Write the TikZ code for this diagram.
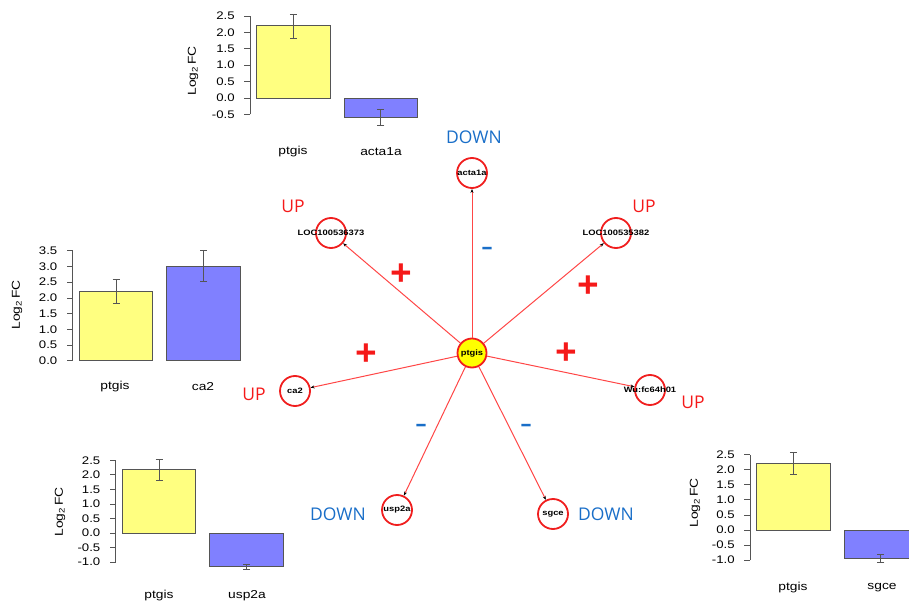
\documentclass[tikz,border=0pt]{standalone}
\usepackage{fontspec}
\setmainfont{Liberation Sans}
\newfontfamily\chartfont[FakeStretch=1.2]{Liberation Sans}
\newfontfamily\tagfont{Open Sans}
\usetikzlibrary{arrows.meta}
\definecolor{baryellow}{RGB}{255,255,128}
\definecolor{barblue}{RGB}{128,128,255}
\definecolor{bargray}{RGB}{85,85,85}
\definecolor{genered}{RGB}{240,30,30}
\definecolor{edgered}{RGB}{255,70,70}
\definecolor{upred}{RGB}{245,25,25}
\definecolor{downblue}{RGB}{25,110,200}
\definecolor{hubyellow}{RGB}{255,255,0}

\begin{document}
\begin{tikzpicture}[x=1pt,y=-1pt,
  gene/.style={circle, draw=genered, line width=1.8pt, fill=white, minimum size=30pt, inner sep=0pt},
  genelab/.style={font=\chartfont\bfseries\fontsize{7.8}{7.8}\selectfont},
  edge/.style={draw=edgered, line width=1pt, -{Stealth[black,length=4pt,width=3pt]}},
  uptag/.style={text=upred, font=\tagfont\fontsize{17.5}{17.5}\selectfont},
  downtag/.style={text=downblue, font=\tagfont\fontsize{17.5}{17.5}\selectfont},
  plussign/.style={text=upred, font=\tagfont\bfseries\fontsize{38}{38}\selectfont},
  minussign/.style={text=downblue, font=\tagfont\bfseries\fontsize{22}{22}\selectfont},
  axis/.style={draw=bargray, line width=0.8pt},
  ticklab/.style={anchor=east, inner sep=0pt, font=\chartfont\fontsize{11}{11}\selectfont},
  catlab/.style={inner sep=0pt, font=\chartfont\fontsize{11.5}{11.5}\selectfont},
  ylab/.style={rotate=90, inner sep=0pt, font=\chartfont\fontsize{11.5}{11.5}\selectfont},
  ybar/.style={draw=bargray, line width=0.8pt, fill=baryellow},
  bbar/.style={draw=bargray, line width=0.8pt, fill=barblue},
  errbar/.style={draw=bargray, line width=0.8pt, {Bar[width=7pt]}-{Bar[width=7pt]}}]
\useasboundingbox (0,0) rectangle (909,601);
\clip (0,0) rectangle (909,601);

% network
\node[gene, fill=hubyellow, minimum size=29pt, label={[genelab]center:ptgis}] (ptgis) at (472,353) {};
\node[gene, label={[genelab]center:acta1a}] (acta1a) at (472,173) {};
\node[gene, label={[genelab]center:LOC100536373}] (locA) at (331,233) {};
\node[gene, label={[genelab]center:LOC100535382}] (locB) at (616,233) {};
\node[gene, label={[genelab]center:ca2}] (ca2) at (295,391) {};
\node[gene, label={[genelab]center:Wu:fc64h01}] (wu) at (650,390) {};
\node[gene, label={[genelab]center:usp2a}] (usp2a) at (397,510) {};
\node[gene, label={[genelab]center:sgce}] (sgce) at (553,514) {};
\draw[edge] (ptgis) -- (acta1a);
\draw[edge] (ptgis) -- (locA);
\draw[edge] (ptgis) -- (locB);
\draw[edge] (ptgis) -- (ca2);
\draw[edge] (ptgis) -- (wu);
\draw[edge] (ptgis) -- (usp2a);
\draw[edge] (ptgis) -- (sgce);

\node[downtag] (tagActa) at (474,137) {DOWN};
\node[uptag] (tagLocA) at (293,206) {UP};
\node[uptag] (tagLocB) at (644,206) {UP};
\node[uptag] (tagCa) at (254,394) {UP};
\node[uptag] (tagWu) at (693,402) {UP};
\node[downtag] (tagUsp) at (338,514) {DOWN};
\node[downtag] (tagSgce) at (606,514) {DOWN};
\node[plussign] (plusLocA) at (401,275) {+};
\node[plussign] (plusLocB) at (588,287) {+};
\node[plussign] (plusCa) at (366,355) {+};
\node[plussign] (plusWu) at (566,354) {+};
\node[minussign] (minusActa) at (487,251) {\textendash};
\node[minussign] (minusUsp) at (421,428) {\textendash};
\node[minussign] (minusSgce) at (526,428) {\textendash};

% acta1a chart
\begin{scope}[shift={(250,98)}, yscale=-32.8]
\draw[ybar] (6.5,0) rectangle (80,2.2);
\draw[bbar] (94,0) rectangle (167.5,-0.6);
\draw[errbar] (43.3,1.8) -- (43.3,2.55);
\draw[errbar] (130.8,-0.35) -- (130.8,-0.85);
\draw[axis] (0,-0.5) -- (0,2.5);
\foreach \v [count=\i] in {-0.5,0.0,0.5,1.0,1.5,2.0,2.5}
  \draw[axis] (0,\v) -- (-6,\v) node[ticklab] (tickA\i) at (-15,\v) {\v};
\end{scope}
\node[catlab] (ptgisA) at (293,152) {ptgis};
\node[catlab] (actaA) at (381,152) {acta1a};
\node[ylab] (ylabA) at (193,71) {Log\textsubscript{2}\,FC};

% ca2 chart
\begin{scope}[shift={(72.7,360.7)}, yscale=-31.4]
\draw[ybar] (6.5,0) rectangle (80,2.2);
\draw[bbar] (94,0) rectangle (167.5,3.0);
\draw[errbar] (43.3,1.8) -- (43.3,2.6);
\draw[errbar] (130.8,2.5) -- (130.8,3.53);
\draw[axis] (0,0) -- (0,3.5);
\foreach \v [count=\i] in {0.0,0.5,1.0,1.5,2.0,2.5,3.0,3.5}
  \draw[axis] (0,\v) -- (-6,\v) node[ticklab] (tickB\i) at (-15,\v) {\v};
\end{scope}
\node[catlab] (ptgisB) at (115,387) {ptgis};
\node[catlab] (caB) at (203,387) {ca2};
\node[ylab] (ylabB) at (17,305) {Log\textsubscript{2}\,FC};

% usp2a chart
\begin{scope}[shift={(115.7,533)}, yscale=-29.1]
\draw[ybar] (6.5,0) rectangle (80,2.2);
\draw[bbar] (94,0) rectangle (167.5,-1.15);
\draw[errbar] (43.3,1.81) -- (43.3,2.54);
\draw[errbar] (130.8,-1.08) -- (130.8,-1.26);
\draw[axis] (0,-1.0) -- (0,2.5);
\foreach \v [count=\i] in {-1.0,-0.5,0.0,0.5,1.0,1.5,2.0,2.5}
  \draw[axis] (0,\v) -- (-6,\v) node[ticklab] (tickC\i) at (-15,\v) {\v};
\end{scope}
\node[catlab] (ptgisC) at (159,596) {ptgis};
\node[catlab] (uspC) at (247,596) {usp2a};
\node[ylab] (ylabC) at (60,512) {Log\textsubscript{2}\,FC};

% sgce chart
\begin{scope}[shift={(750,530)}, yscale=-30.2]
\draw[ybar] (6.5,0) rectangle (80,2.2);
\draw[bbar] (94,0) rectangle (167.5,-0.95);
\draw[errbar] (43.3,1.84) -- (43.3,2.59);
\draw[errbar] (130.8,-0.8) -- (130.8,-1.08);
\draw[axis] (0,-1.0) -- (0,2.5);
\foreach \v [count=\i] in {-1.0,-0.5,0.0,0.5,1.0,1.5,2.0,2.5}
  \draw[axis] (0,\v) -- (-6,\v) node[ticklab] (tickD\i) at (-15,\v) {\v};
\end{scope}
\node[catlab] (ptgisD) at (793,588) {ptgis};
\node[catlab] (sgceD) at (882,588) {sgce};
\node[ylab] (ylabD) at (695,503) {Log\textsubscript{2}\,FC};
\end{tikzpicture}
\end{document}
